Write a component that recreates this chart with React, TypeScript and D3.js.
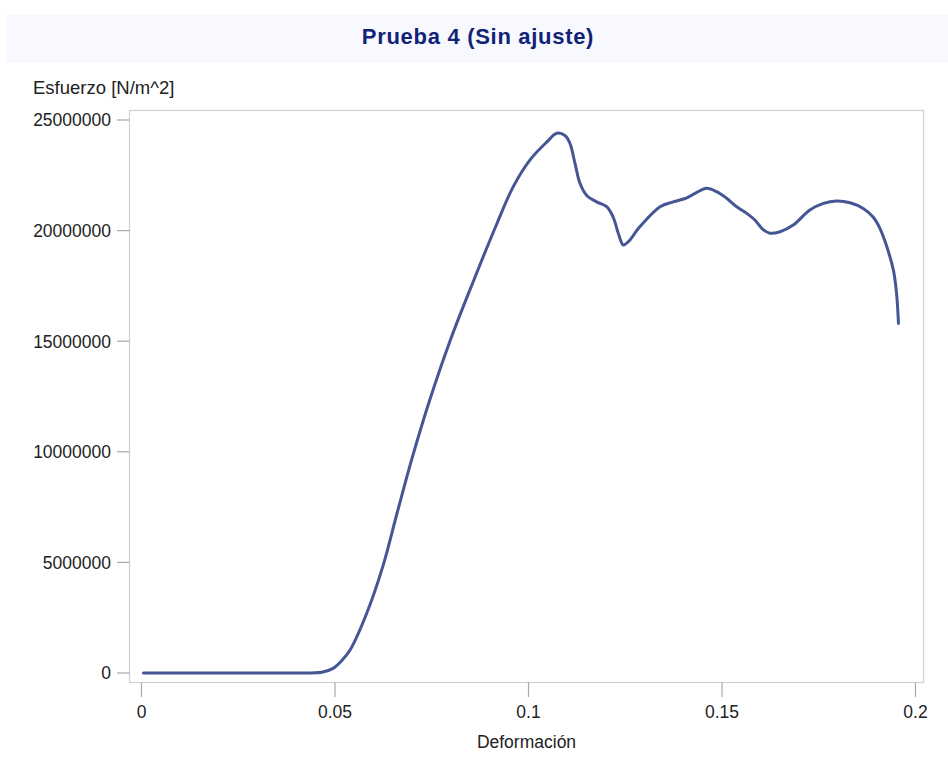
import React from "react";
import * as d3 from "d3";

const deformacion = [
  0.0005, 0.004, 0.008, 0.012, 0.016, 0.02, 0.024, 0.028, 0.032, 0.036, 0.04, 0.044, 0.0466,
  0.0495, 0.0517, 0.0539, 0.0582, 0.0625, 0.066, 0.0699, 0.0745, 0.0797, 0.0855, 0.0918,
  0.0961, 0.1004, 0.1047, 0.1073, 0.1094, 0.1107, 0.112, 0.1133, 0.115, 0.1176, 0.1202,
  0.1219, 0.1232, 0.1245, 0.1258, 0.1288, 0.134, 0.1374, 0.1409, 0.1435, 0.146, 0.1486,
  0.1512, 0.1538, 0.1564, 0.1585, 0.1607, 0.1624, 0.165, 0.1684, 0.1727, 0.1762, 0.1796,
  0.1831, 0.1865, 0.1891, 0.1908, 0.1926, 0.1943, 0.1951, 0.1956,
];

const esfuerzo = [
  0, 4000, -3000, 3000, 0, -3000, 2000, -2000, 3000, 0, -2000, 5000, 30000,
  210000, 550000, 1040000, 2700000, 4900000, 7200000, 9700000, 12350000, 15000000, 17600000, 20300000,
  22000000, 23200000, 24000000, 24400000, 24300000, 23950000, 23050000, 22140000, 21600000, 21300000, 21080000,
  20600000, 19880000, 19350000, 19500000, 20180000, 21080000, 21300000, 21480000, 21730000, 21910000, 21760000,
  21460000, 21080000, 20780000, 20480000, 20030000, 19880000, 19950000, 20250000, 20930000, 21230000, 21340000,
  21260000, 21000000, 20600000, 20100000, 19270000, 18200000, 17170000, 15800000,
];

const xTicks = [0, 0.05, 0.1, 0.15, 0.2];
const xTickLabels = ["0", "0.05", "0.1", "0.15", "0.2"];
const yTicks = [0, 5000000, 10000000, 15000000, 20000000, 25000000];
const yTickLabels = ["0", "5000000", "10000000", "15000000", "20000000", "25000000"];

const title = "Prueba 4 (Sin ajuste)";
const xLabel = "Deformación";
const yLabel = "Esfuerzo [N/m^2]";

export default function App() {
  const W = 948;
  const H = 761;
  const frame = { left: 129.5, top: 110.5, right: 923.5, bottom: 682.5 };
  const x = d3.scaleLinear().domain([0, 0.2]).range([141.5, 915.5]);
  const y = d3.scaleLinear().domain([0, 25000000]).range([673, 120]);
  const data = deformacion.map((d, i) => [d, esfuerzo[i]] as [number, number]);
  const line = d3
    .line<[number, number]>()
    .x((d) => x(d[0]))
    .y((d) => y(d[1]))
    .curve(d3.curveCatmullRom.alpha(0.5));
  const font = "'Liberation Sans', Arial, sans-serif";
  const textColor = "#222";
  const tickColor = "#a8a8a8";

  return (
    <svg
      width={W}
      height={H}
      style={{ position: "absolute", left: 0, top: 0, background: "#fff" }}
      fontFamily={font}
    >
      <rect x={6} y={15} width={W - 6} height={48} fill="#f8f9fe" />
      <text
        x={478}
        y={43.5}
        textAnchor="middle"
        fontSize={22}
        fontWeight="bold"
        fill="#112277"
        letterSpacing={0.7}
      >
        {title}
      </text>
      <text x={33} y={94} fontSize={18.5} fill={textColor}>
        {yLabel}
      </text>
      <rect
        x={frame.left}
        y={frame.top}
        width={frame.right - frame.left}
        height={frame.bottom - frame.top}
        fill="#fff"
        stroke="#d0d0d0"
        strokeWidth={1.2}
      />
      {yTicks.map((t, i) => (
        <g key={"y" + i}>
          <line x1={117} x2={frame.left} y1={y(t)} y2={y(t)} stroke={tickColor} strokeWidth={1.2} />
          <text
            x={111}
            y={y(t)}
            dy="0.36em"
            textAnchor="end"
            fontSize={17.5}
            fill={textColor}
          >
            {yTickLabels[i]}
          </text>
        </g>
      ))}
      {xTicks.map((t, i) => (
        <g key={"x" + i}>
          <line x1={x(t)} x2={x(t)} y1={frame.bottom} y2={697} stroke={tickColor} strokeWidth={1.2} />
          <text x={x(t)} y={718} textAnchor="middle" fontSize={17.5} fill={textColor}>
            {xTickLabels[i]}
          </text>
        </g>
      ))}
      <text
        x={(frame.left + frame.right) / 2}
        y={748}
        textAnchor="middle"
        fontSize={17.5}
        fill={textColor}
      >
        {xLabel}
      </text>
      <path
        d={line(data) || ""}
        fill="none"
        stroke="#445694"
        strokeWidth={3}
        strokeLinejoin="round"
        strokeLinecap="round"
      />
    </svg>
  );
}
